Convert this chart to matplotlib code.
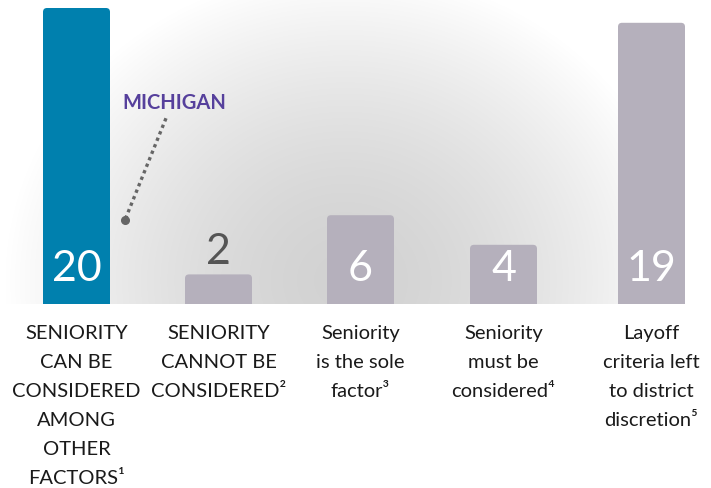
import numpy as np
import matplotlib.pyplot as plt
from matplotlib.patches import FancyBboxPatch

categories = ["SENIORITY\nCAN BE\nCONSIDERED\nAMONG\nOTHER\nFACTORS\u00b9",
              "SENIORITY\nCANNOT BE\nCONSIDERED\u00b2",
              "Seniority\nis the sole\nfactor\u00b3",
              "Seniority\nmust be\nconsidered\u2074",
              "Layoff\ncriteria left\nto district\ndiscretion\u2075"]
values = [20, 2, 6, 4, 19]
bar_colors = ["#0080ae", "#b5b0bc", "#b5b0bc", "#b5b0bc", "#b5b0bc"]

fam = ["Lato", "DejaVu Sans"]
W, H = 711, 488
fig = plt.figure(figsize=(W / 100, H / 100), dpi=100)

# radial grey background above the baseline
bg = fig.add_axes([0, 184 / H, 1, 304 / H])
yy, xx = np.mgrid[0:304, 0:W]
r = np.sqrt(((xx - 345) / 340) ** 2 + ((yy - 280) / 310) ** 2)
grey = np.clip(210 + 45 * r ** 1.6, 0, 255) / 255
bg.imshow(np.dstack([grey] * 3), aspect="auto", extent=[0, W, 304, 0])
bg.axis("off")

# x axis in pixels, y axis in data units
ax = fig.add_axes([0, 184 / H, 1, 1 - 184 / H])
ax.patch.set_visible(False)
x = np.array([76.5, 218.5, 360.5, 503.5, 651.5])
ymax = 20 * 304 / 296
ax.set_xlim(0, W)
ax.set_ylim(0, ymax)
ax.axis("off")
py = 304 / ymax  # pixels per unit

bars = ax.bar(x, values, width=67, color=bar_colors)
for b, c in zip(bars, bar_colors):
    b.set_visible(False)
    p = FancyBboxPatch((b.get_x(), -1), b.get_width(), b.get_height() + 1,
                       boxstyle="round,pad=0,rounding_size=4",
                       mutation_aspect=1 / py, fc=c, ec="none", clip_on=True)
    ax.add_patch(p)

for xi, v in zip(x, values):
    if v < 3:
        ax.text(xi, v + 0.25, str(v), ha="center", va="bottom", fontsize=31,
                color="#555555", family=fam)
    else:
        ax.text(xi, 1.1, str(v), ha="center", va="bottom", fontsize=31,
                color="white", family=fam)

for xi, lab in zip(x, categories):
    ax.text(xi, -1.4, lab, ha="center", va="top", fontsize=14.5,
            color="#1a1a1a", family=fam, linespacing=1.86, clip_on=False)

# Michigan callout
ax.text(122, 13.6, "MICHIGAN", ha="left", va="center", fontsize=14.5,
        fontweight="bold", color="#56409c", family=fam)
ax.plot([166, 126], [12.55, 5.85], ls=(0, (1, 1.1)), color="#666666", lw=2.4)
ax.plot([125], [5.65], "o", color="#666666", ms=5.5)

fig.savefig("out.png", dpi=100)
